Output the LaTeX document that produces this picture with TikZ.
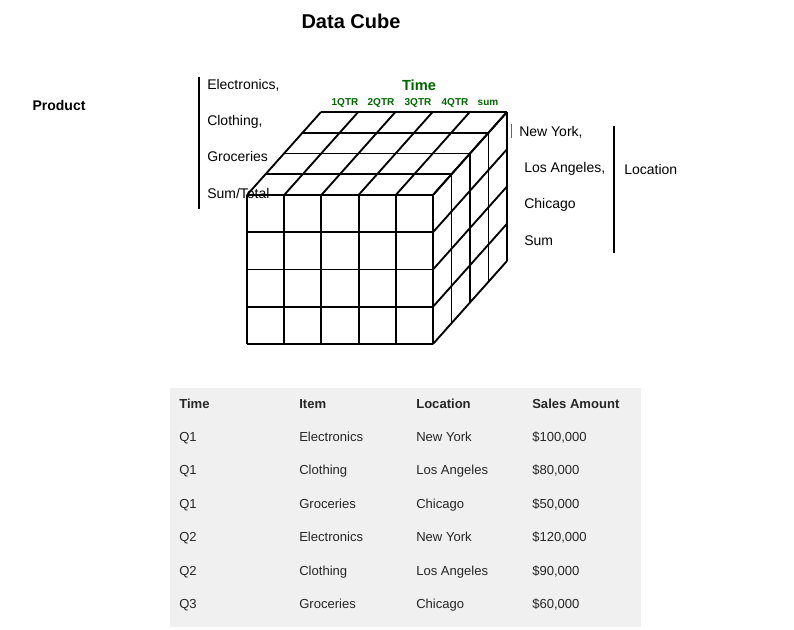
\documentclass[tikz,border=0pt]{standalone}
\usepackage{fontspec}
\setmainfont{Liberation Sans}
\begin{document}
\begin{tikzpicture}[x=0.75pt,y=-0.75pt,
  lbl/.style={anchor=base west,font=\fontsize{10.5}{12}\selectfont,inner sep=0pt},
  qtr/.style={font=\bfseries\fontsize{7.5}{9}\selectfont,text=green!40!black,inner sep=0pt},
  cell/.style={anchor=base west,font=\fontsize{9.8}{11}\selectfont,inner sep=0pt,text=black!85},
  hcell/.style={cell,font=\bfseries\fontsize{9.8}{11}\selectfont},
  grid/.style={line width=1.4pt,black}]
\useasboundingbox (0,0) rectangle (794,630);
\node[font=\bfseries\fontsize{15}{18}\selectfont] (title) at (351,21) {Data Cube};
\node[font=\bfseries\fontsize{10.5}{12}\selectfont] (prod) at (59,106) {Product};
\draw[line width=0.8pt] (199,77) -- (199,209);
\node[lbl] (p1) at (207,90) {Electronics,};
\node[lbl] (p2) at (207,126) {Clothing,};
\node[lbl] (p3) at (207,162) {Groceries};
% cube
\def\dx{18.5}\def\dy{20.75}
\foreach \k in {0,...,4}{
  \draw[grid] (247+\k*\dx,195-\k*\dy) -- (433+\k*\dx,195-\k*\dy);
  \draw[grid] (433+\k*\dx,195-\k*\dy) -- (433+\k*\dx,344-\k*\dy);
}
\foreach \x in {247,284.2,321.4,358.6,395.8,433}{
  \draw[grid] (\x,195) -- (\x+4*\dx,195-4*\dy);
  \draw[grid] (\x,195) -- (\x,344);
}
\foreach \y in {195,232.25,269.5,306.75,344}{
  \draw[grid] (247,\y) -- (433,\y);
  \draw[grid] (433,\y) -- (433+4*\dx,\y-4*\dy);
}
\node[lbl] (p4) at (207,199) {Sum/Total};
\node[font=\bfseries\fontsize{11}{13}\selectfont,text=green!40!black] (time) at (419,85) {Time};
\node[qtr] (q1) at (345,103) {1QTR};
\node[qtr] (q2) at (381,103) {2QTR};
\node[qtr] (q3) at (418,103) {3QTR};
\node[qtr] (q4) at (455,103) {4QTR};
\node[qtr] (q5) at (488,103) {sum};
\draw[line width=0.6pt,black!60] (511,124) -- (511,138);
\node[lbl] (l1) at (519,137) {New York,};
\node[lbl] (l2) at (524,173) {Los Angeles,};
\node[lbl] (l3) at (524,209) {Chicago};
\node[lbl] (l4) at (524,246) {Sum};
\draw[line width=0.8pt] (614,126) -- (614,253);
\node[lbl] (loc) at (624,175) {Location};
% table
\fill[black!6] (170,388) rectangle (641,627);
\node[hcell] at (179,408.5) {Time};
\node[hcell] at (299,408.5) {Item};
\node[hcell] at (416,408.5) {Location};
\node[hcell] at (532,408.5) {Sales Amount};
\foreach \y/\a/\b/\c/\d in {441.5/Q1/Electronics/New York/\$100{,}000,475/Q1/Clothing/Los Angeles/\$80{,}000,508.5/Q1/Groceries/Chicago/\$50{,}000,542/Q2/Electronics/New York/\$120{,}000,575.5/Q2/Clothing/Los Angeles/\$90{,}000,609/Q3/Groceries/Chicago/\$60{,}000}{
  \node[cell] at (179,\y) {\a};
  \node[cell] at (299,\y) {\b};
  \node[cell] at (416,\y) {\c};
  \node[cell] at (532,\y) {\d};
}
\end{tikzpicture}
\end{document}
